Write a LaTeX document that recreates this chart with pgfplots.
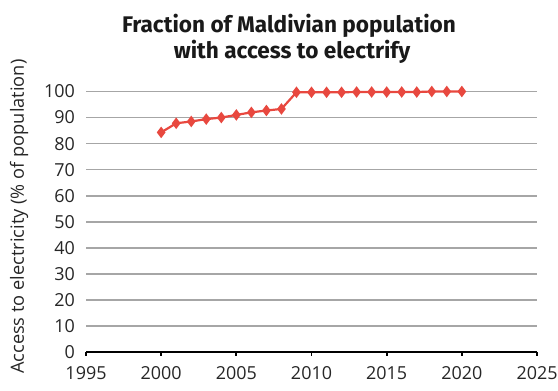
\documentclass[border=0pt]{standalone}
\usepackage{pgfplots}
\pgfplotsset{compat=1.18}
\usepackage{fontspec}
\setmainfont{Open Sans}
\newfontfamily\titlefont{Fira Sans}
\definecolor{linered}{HTML}{E8483F}
\definecolor{gridgray}{HTML}{A6A6A6}
\begin{document}
\begin{tikzpicture}[x=1bp,y=1bp]
\path[use as bounding box] (0,0) rectangle (558,390);
\begin{axis}[
  at={(86bp,38bp)}, anchor=south west, scale only axis,
  width=451bp, height=260.5bp,
  xmin=1995, xmax=2025, ymin=0, ymax=100,
  xtick={1995,2000,...,2025}, ytick={0,10,...,100},
  axis x line*=bottom, axis y line*=left,
  x axis line style={black, line width=1.8bp, -},
  y axis line style={draw=none},
  ytick style={draw=none},
  xtick style={black, line width=1.8bp},
  major tick length=3.5bp, tick align=outside,
  ymajorgrids, grid style={gridgray, line width=1.6bp},
  /pgf/number format/assume math mode=true,
  /pgf/number format/1000 sep={},
  tick label style={font=\fontsize{18}{20}\selectfont, text=black!85},
  yticklabel style={xshift=-4bp},
  xticklabel style={yshift=-7bp},
  clip=false,
]
\addplot[linered, line width=2.2bp, mark=diamond*, mark size=4bp,
  mark options={fill=linered, draw=linered, solid}]
  coordinates {
  (2000,84.3) (2001,87.8) (2002,88.5) (2003,89.4) (2004,90.0)
  (2005,91.0) (2006,92.0) (2007,92.7) (2008,93.3) (2009,99.7)
  (2010,99.7) (2011,99.7) (2012,99.7) (2013,99.8) (2014,99.8)
  (2015,99.8) (2016,99.8) (2017,99.8) (2018,100) (2019,100) (2020,100)
  };
\end{axis}
\node[anchor=base, font=\titlefont\bfseries\fontsize{22.7}{27}\selectfont, text=black!90]
  at (289,358) {Fraction of Maldivian population};
\node[anchor=base, font=\titlefont\bfseries\fontsize{22.7}{27}\selectfont, text=black!90]
  at (292,332) {with access to electrify};
\node[rotate=90, anchor=east, font=\fontsize{18.3}{21}\selectfont, text=black!85]
  at (19,334) {Access to electricity (\% of population)};
\end{tikzpicture}
\end{document}
